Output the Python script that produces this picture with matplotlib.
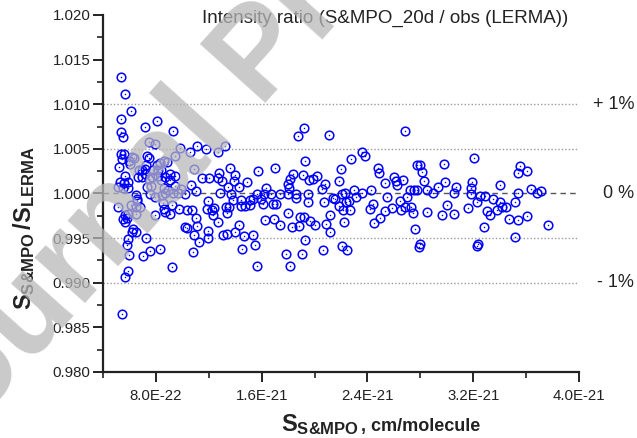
import numpy as np
import matplotlib
matplotlib.use("Agg")
import matplotlib.pyplot as plt
from matplotlib.ticker import MultipleLocator, FuncFormatter

plt.rcParams['font.family'] = ['Liberation Sans', 'DejaVu Sans']
plt.rcParams['mathtext.fontset'] = 'custom'
plt.rcParams['mathtext.rm'] = 'Liberation Sans:bold'
plt.rcParams['mathtext.bf'] = 'Liberation Sans:bold'
plt.rcParams['mathtext.it'] = 'Liberation Sans:bold'
plt.rcParams['mathtext.default'] = 'bf'

# line intensity S&MPO, in units of 1E-22 cm/molecule
s_smpo_e22 = [
    5.35, 5.67, 6.10, 5.39, 5.35, 5.50, 7.19, 8.12, 7.51, 7.97,
    5.37, 5.60, 5.41, 6.20, 6.35, 5.94, 6.07, 5.22, 7.30, 7.45,
    7.22, 8.07, 8.19, 7.81, 6.75, 6.96, 7.15, 7.74, 8.15, 5.67,
    5.92, 5.27, 5.57, 5.17, 5.92, 5.50, 6.68, 6.98, 7.19, 7.47,
    7.36, 7.66, 7.56, 7.94, 6.48, 6.54, 6.15, 6.60, 6.83, 6.51,
    5.17, 7.94, 5.67, 5.82, 5.54, 5.67, 5.92, 6.53, 6.26, 6.51,
    6.20, 5.88, 5.82, 7.26, 5.98, 7.06, 7.56, 8.32, 5.92, 5.67,
    5.45, 8.32, 8.60, 8.83, 8.37, 8.45, 8.68, 8.52, 8.60, 8.70,
    9.08, 9.23,
    9.30, 9.81, 10.57, 11.14, 11.82, 12.71, 9.43, 10.89, 11.52, 12.00,
    12.71, 12.78, 10.64, 8.68, 9.10, 9.43, 9.05, 8.42, 8.60, 8.93,
    9.48, 9.93, 9.68, 10.23, 9.30, 9.74, 10.36, 10.74, 11.95, 11.88,
    12.25, 12.41, 12.33, 11.07, 11.14, 10.23, 10.39, 10.87, 11.95, 11.95,
    11.25, 10.82, 9.23, 12.71, 11.04, 12.86,
    18.71, 13.21, 13.59, 14.02, 13.01, 13.90, 14.92, 15.73, 17.04, 18.38,
    18.15, 18.00, 18.08, 13.46, 14.30, 13.71, 15.66, 16.16, 16.69, 17.35,
    18.00, 18.63, 16.36, 18.56, 13.84, 14.47, 15.11, 15.36, 15.94, 14.43,
    14.73, 15.15, 16.11, 16.82, 17.12, 13.31, 13.56, 13.34, 16.24, 16.94,
    17.40, 18.00, 18.31, 18.84, 14.27, 13.09, 13.41, 13.97, 14.65, 15.36,
    14.52, 15.48, 17.87, 15.68, 18.13, 18.89,
    19.21, 21.10, 23.55, 23.81, 22.72, 19.31, 22.03, 24.76, 24.89, 19.12,
    20.20, 19.87, 19.61, 20.78, 20.57, 21.86, 19.52, 22.09, 22.29, 23.00,
    24.30, 23.62, 21.43, 21.54, 22.59, 22.34, 23.12, 19.52, 20.70, 24.43,
    24.18, 21.88, 22.16, 22.67, 19.21, 21.20, 19.69, 20.07, 20.88, 22.24,
    21.13, 24.49, 24.96, 19.27, 19.08, 20.65, 22.09, 22.44,
    26.83, 27.76, 27.97, 28.16, 29.78, 26.02, 26.17, 26.23, 26.72, 25.32,
    28.31, 29.86, 30.69, 30.51, 29.30, 28.52, 28.95, 27.21, 27.53, 27.71,
    27.00, 25.47, 26.45, 26.83, 27.28, 26.57, 27.44, 25.82, 25.36, 28.54,
    29.67, 30.03, 30.56, 31.57, 27.61, 27.94, 27.86,
    32.07, 35.53, 35.40, 36.08, 31.92, 31.82, 31.82, 34.06, 36.36, 36.82,
    37.16, 35.40, 32.53, 32.88, 33.49, 34.04, 35.15, 32.32, 33.03, 33.28,
    33.81, 34.14, 34.47, 34.67, 35.40, 36.03, 32.83, 37.67, 35.12, 32.38,
    32.30,
]

# intensity ratio S&MPO / LERMA
ratio = [
    1.0130, 1.0111, 1.0092, 1.0084, 1.0069, 1.0063, 1.0075, 1.0081, 1.0058, 1.0055,
    1.0044, 1.0044, 1.0039, 1.0041, 1.0040, 1.0036, 1.0033, 1.0030, 1.0042, 1.0040,
    1.0032, 1.0032, 1.0026, 1.0026, 1.0026, 1.0026, 1.0027, 1.0019, 1.0020, 1.0020,
    1.0013, 1.0013, 1.0012, 1.0007, 1.0006, 1.0006, 1.0018, 1.0019, 1.0022, 1.0016,
    1.0007, 1.0008, 0.9999, 0.9996, 0.9998, 0.9994, 0.9987, 0.9992, 0.9985, 0.9985,
    0.9985, 0.9976, 0.9976, 0.9973, 0.9971, 0.9968, 0.9977, 0.9977, 0.9960, 0.9957,
    0.9957, 0.9949, 0.9942, 0.9950, 0.9931, 0.9930, 0.9936, 0.9938, 0.9913, 0.9906,
    0.9865, 1.0034, 1.0036, 1.0035, 1.0026, 0.9998, 1.0000, 0.9989, 0.9983, 0.9979,
    0.9977, 0.9987,
    1.0070, 1.0051, 1.0047, 1.0053, 1.0050, 1.0047, 1.0042, 1.0027, 1.0017, 1.0017,
    1.0017, 1.0023, 1.0009, 1.0019, 1.0022, 1.0020, 1.0015, 1.0015, 1.0006, 1.0004,
    1.0008, 1.0005, 1.0001, 0.9999, 1.0000, 0.9983, 0.9982, 0.9982, 0.9992, 0.9983,
    0.9982, 0.9984, 0.9976, 0.9973, 0.9964, 0.9962, 0.9961, 0.9954, 0.9958, 0.9950,
    0.9946, 0.9935, 0.9918, 0.9968, 1.0003, 1.0000,
    1.0064, 1.0053, 1.0029, 1.0021, 1.0014, 1.0014, 1.0013, 1.0025, 1.0029, 1.0022,
    1.0016, 1.0011, 1.0006, 1.0007, 1.0007, 0.9999, 0.9999, 0.9999, 0.9999, 0.9999,
    0.9999, 0.9999, 1.0006, 0.9995, 0.9993, 0.9993, 0.9993, 0.9994, 0.9994, 0.9986,
    0.9986, 0.9987, 0.9988, 0.9988, 0.9988, 0.9985, 0.9985, 0.9978, 0.9970, 0.9971,
    0.9965, 0.9978, 0.9962, 0.9964, 0.9965, 0.9954, 0.9955, 0.9957, 0.9952, 0.9954,
    0.9938, 0.9942, 0.9932, 0.9919, 0.9919, 0.9974,
    1.0073, 1.0066, 1.0046, 1.0042, 1.0039, 1.0036, 1.0027, 1.0028, 1.0023, 1.0021,
    1.0020, 1.0016, 1.0015, 1.0011, 1.0005, 1.0014, 0.9999, 0.9999, 1.0000, 1.0004,
    1.0004, 1.0000, 0.9995, 0.9994, 0.9992, 0.9991, 0.9996, 0.9990, 0.9990, 0.9988,
    0.9983, 0.9986, 0.9982, 0.9982, 0.9974, 0.9976, 0.9969, 0.9965, 0.9966, 0.9968,
    0.9957, 0.9967, 0.9972, 0.9948, 0.9932, 0.9937, 0.9941, 0.9937,
    1.0070, 1.0032, 1.0032, 1.0024, 1.0033, 1.0019, 1.0014, 1.0010, 1.0015, 1.0012,
    1.0014, 1.0013, 1.0007, 1.0000, 1.0007, 1.0004, 1.0000, 1.0004, 1.0004, 1.0004,
    0.9996, 0.9996, 0.9992, 0.9985, 0.9985, 0.9982, 0.9978, 0.9984, 0.9980, 0.9979,
    0.9976, 0.9987, 0.9977, 0.9984, 0.9960, 0.9943, 0.9940,
    1.0040, 1.0031, 1.0023, 1.0025, 1.0013, 1.0006, 0.9999, 1.0009, 1.0005, 1.0000,
    1.0003, 1.0000, 0.9997, 0.9997, 0.9994, 0.9991, 0.9991, 0.9991, 0.9980, 0.9976,
    0.9982, 0.9985, 0.9985, 0.9971, 0.9970, 0.9975, 0.9963, 0.9965, 0.9951, 0.9943,
    0.9941,
]

ref_levels = [1.010, 1.005, 0.995, 0.990]
pct_labels = {1.010: '+ 1%', 1.000: '0 %', 0.990: '- 1%'}

x = np.array(s_smpo_e22) * 1e-22
y = np.array(ratio)

fig = plt.figure(figsize=(6.37, 4.38), dpi=100)
ax = fig.add_axes([0.1617, 0.1507, 0.909 - 0.1617, 0.9658 - 0.1507])

xmin, xmax = 4e-22, 4e-21
for lv in ref_levels:
    ax.plot([xmin, xmax], [lv, lv], color='#9a9a9a', lw=1.0,
            ls=(0, (1, 1.5)), zorder=1)
ax.plot([xmin, xmax], [1.0, 1.0], color='#555555', lw=1.0,
        ls=(0, (4, 3)), zorder=1)

ax.plot(x, y, ls='none', marker='o', ms=6.2, mfc='none', mec='#0000ff',
        mew=1.1, zorder=3)
ax.plot(x, y, ls='none', marker='o', ms=1.1, mfc='#0000ff', mec='#0000ff',
        mew=0, zorder=3)

ax.set_xlim(xmin, xmax)
ax.set_ylim(0.980, 1.020)
ax.xaxis.set_major_locator(MultipleLocator(8e-22))
ax.xaxis.set_minor_locator(MultipleLocator(4e-22))
ax.yaxis.set_major_locator(MultipleLocator(0.005))
ax.yaxis.set_minor_locator(MultipleLocator(0.0025))
ax.xaxis.set_major_formatter(FuncFormatter(lambda v, p: f"{v:.1E}"))
ax.yaxis.set_major_formatter(FuncFormatter(lambda v, p: f"{v:.3f}"))

for s in ['top', 'right']:
    ax.spines[s].set_visible(False)
for s in ['left', 'bottom']:
    ax.spines[s].set_linewidth(1.6)
    ax.spines[s].set_color('#222222')
ax.tick_params(which='major', direction='out', length=7, width=1.4,
               labelsize=10.8, colors='#222222', pad=2)
ax.tick_params(which='minor', direction='out', length=4, width=1.2,
               colors='#222222')
ax.tick_params(axis='x', pad=5)

ax.text(0.592, 0.99, 'Intensity ratio (S&MPO_20d / obs (LERMA))',
        transform=ax.transAxes, ha='center', va='center', fontsize=13.5,
        color='#222222')

trans = ax.get_yaxis_transform()
for lv, lab in pct_labels.items():
    ax.text(1.1155, lv, lab, transform=trans, ha='right', va='center',
            fontsize=13, color='#222222', clip_on=False)

fig.text(0.038, 0.479, r'$S_{\text{S&MPO}}\,/S_{\text{LERMA}}$', rotation=90,
         ha='center', va='center', fontsize=17, color='#222222')
fig.text(359 / 637, 0.016, r'$S_{\text{S&MPO}}$', ha='right',
         va='baseline', fontsize=17, color='#222222')
fig.text(361 / 637, 0.016, ', cm/molecule', ha='left', va='baseline',
         fontsize=13, fontweight='bold', color='#222222')

# journal watermark
fig.text(-0.113, -0.091, 'Journal Pre-proof', rotation=48,
         rotation_mode='anchor', ha='left', va='baseline', fontsize=92,
         fontweight='bold', color=(0.72, 0.72, 0.72), alpha=0.75, zorder=10)

fig.savefig('out.png', dpi=100)
